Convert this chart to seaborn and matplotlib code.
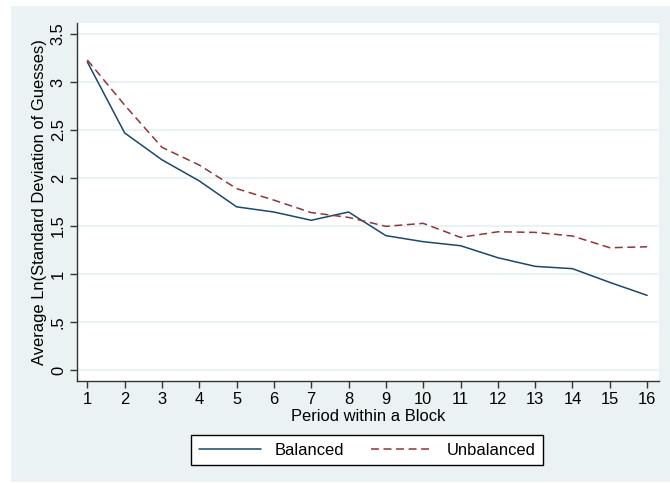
import matplotlib
matplotlib.use("Agg")
import matplotlib.pyplot as plt
import seaborn as sns
import pandas as pd
from matplotlib.patches import Rectangle
from matplotlib.lines import Line2D

periods = list(range(1, 17))
balanced = [3.21, 2.47, 2.19, 1.97, 1.70, 1.646, 1.56, 1.646, 1.40, 1.337, 1.295, 1.17, 1.08, 1.056, 0.913, 0.778]
unbalanced = [3.23, 2.76, 2.32, 2.135, 1.89, 1.77, 1.64, 1.59, 1.497, 1.528, 1.382, 1.44, 1.434, 1.396, 1.274, 1.284]
series_names = ["Balanced", "Unbalanced"]
y_ticks = [0, 0.5, 1, 1.5, 2, 2.5, 3, 3.5]
y_ticklabels = ["0", ".5", "1", "1.5", "2", "2.5", "3", "3.5"]

df = pd.DataFrame({
    "Period": periods * 2,
    "Value": balanced + unbalanced,
    "Series": [series_names[0]] * len(periods) + [series_names[1]] * len(periods),
})

sns.set_theme(style="white")
plt.rcParams["font.family"] = ["Liberation Sans", "DejaVu Sans"]
plt.rcParams["text.color"] = "black"

BG = "#EAF2F3"
NAVY = "#1A476F"
MAROON = "#90353B"
AX = "#333333"
FS = 11.9

fig = plt.figure(figsize=(6.70, 4.83), dpi=100, facecolor="white")
bg = Rectangle((11 / 670, 1 / 483), 1 - 11 / 670, (483 - 7) / 483,
               transform=fig.transFigure, facecolor=BG, edgecolor="none", zorder=-10)
fig.patches.append(bg)

ax = fig.add_axes([77 / 670, (483 - 380.7) / 483, (658.7 - 77) / 670, (380.7 - 22.7) / 483])
ax.set_zorder(1)
ax.set_facecolor("white")

sns.lineplot(data=df, x="Period", y="Value", hue="Series", style="Series",
             palette={"Balanced": NAVY, "Unbalanced": MAROON},
             dashes={"Balanced": "", "Unbalanced": (5.2, 3.0)},
             linewidth=1.1, ax=ax, legend=False, zorder=3)

ax.set_xlim(0.724, 16.31)
ax.set_ylim(-0.111, 3.618)
ax.set_xticks(periods)
ax.set_xticklabels([str(p) for p in periods])
ax.set_yticks(y_ticks)
ax.set_yticklabels(y_ticklabels, rotation=90, va="center")

for y in y_ticks:
    ax.axhline(y, color=BG, lw=1.6, zorder=1)

for s in ["top", "right"]:
    ax.spines[s].set_visible(False)
for s in ["left", "bottom"]:
    ax.spines[s].set_color(AX)
    ax.spines[s].set_linewidth(1.0)

ax.tick_params(axis="both", which="major", direction="out", length=5, width=1.0,
               color=AX, labelsize=FS, labelcolor="black", pad=3,
               left=True, bottom=True)
ax.grid(False)

ax.set_xlabel("Period within a Block", fontsize=FS, color="black", labelpad=1.5)
ax.set_ylabel("Average Ln(Standard Deviation of Guesses)", fontsize=FS, color="black", labelpad=3)

handles = [Line2D([], [], color=NAVY, lw=1.1),
           Line2D([], [], color=MAROON, lw=1.1, dashes=(5.2, 3.0))]
leg = fig.legend(handles, series_names, loc="center",
                 bbox_to_anchor=(367 / 670, (483 - 450.3) / 483),
                 ncol=2, frameon=True, fancybox=False, fontsize=FS,
                 handlelength=3.8, columnspacing=1.6, handletextpad=0.8,
                 borderpad=0.45, edgecolor="black", facecolor="white",
                 framealpha=1.0, labelcolor="black")
leg.get_frame().set_linewidth(1.0)
leg.set_zorder(2)

fig.savefig("out.png", dpi=100, facecolor="white")
